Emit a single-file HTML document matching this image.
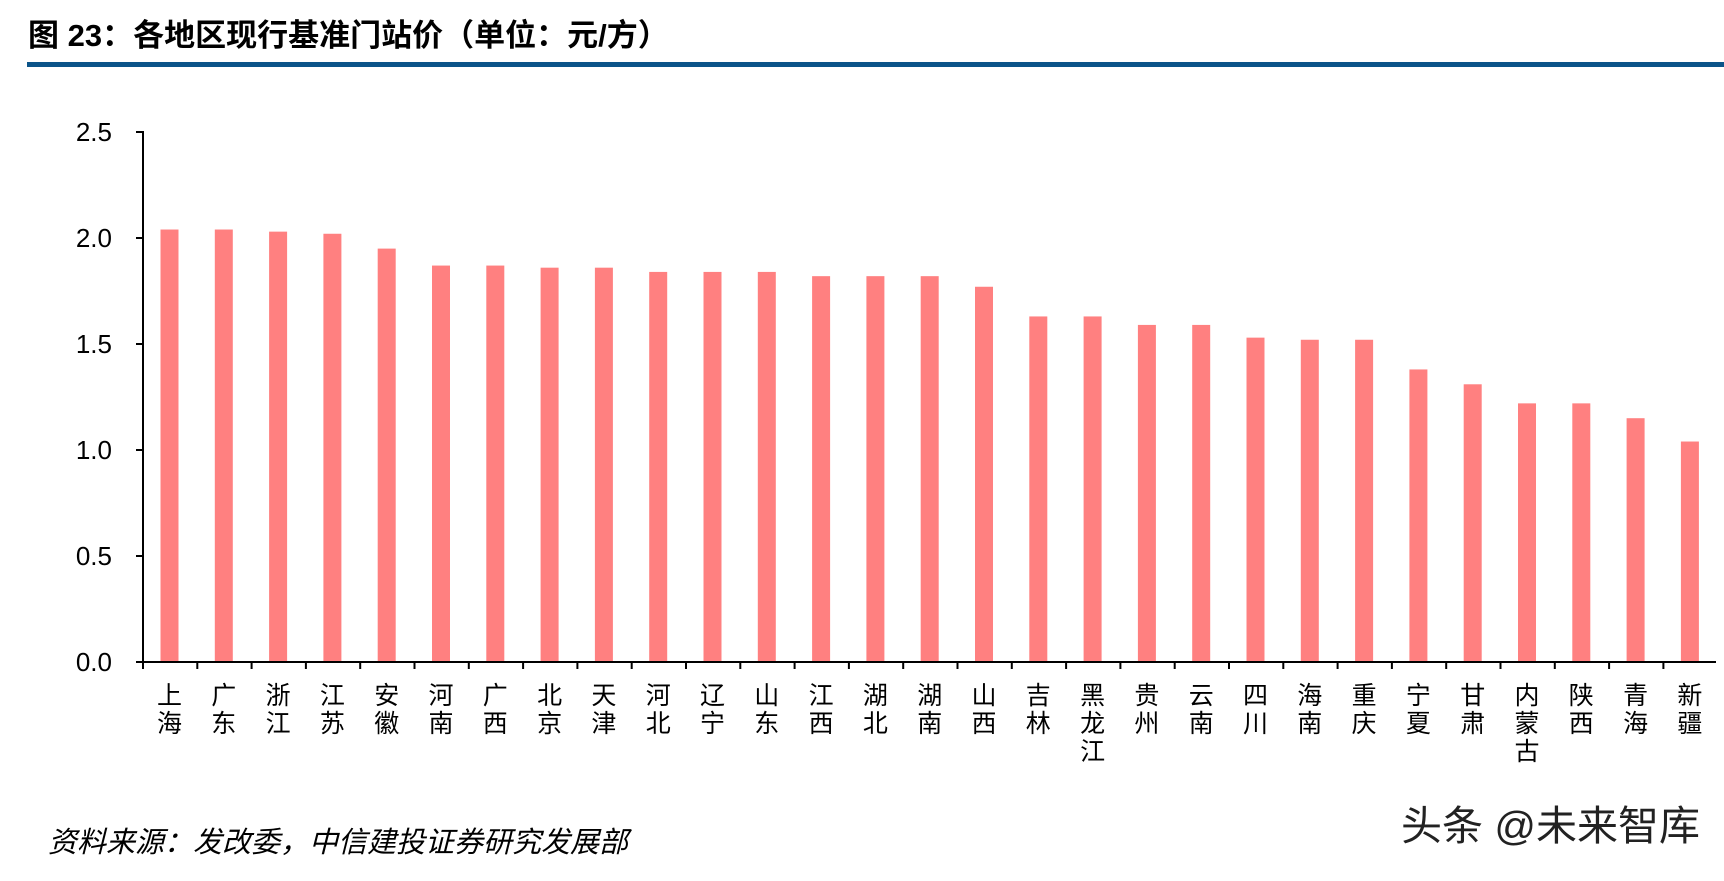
<!DOCTYPE html>
<html><head><meta charset="utf-8"><style>
html,body{margin:0;padding:0;background:#fff;}
svg text{font-family:"Liberation Sans","Noto Sans CJK SC",sans-serif;}
</style></head><body>
<svg width="1724" height="876" viewBox="0 0 1724 876" xmlns="http://www.w3.org/2000/svg">
<text x="28" y="46" font-size="31" font-weight="bold" font-family="Liberation Serif,Noto Serif CJK SC,serif" fill="#000">图 23：各地区现行基准门站价（单位：元/方）</text>
<rect x="27" y="62" width="1697" height="5" fill="#0b5489"/>
<g font-size="26" fill="#000" text-anchor="end">
<text x="112" y="141">2.5</text><text x="112" y="247">2.0</text><text x="112" y="353">1.5</text><text x="112" y="459">1.0</text><text x="112" y="565">0.5</text><text x="112" y="671">0.0</text>
</g>
<g transform="translate(0,662) scale(1,-212)" fill="#ff8080">
<rect x="160.5" y="0" width="18" height="2.04"/>
<rect x="214.8" y="0" width="18" height="2.04"/>
<rect x="269.1" y="0" width="18" height="2.03"/>
<rect x="323.4" y="0" width="18" height="2.02"/>
<rect x="377.7" y="0" width="18" height="1.95"/>
<rect x="432.0" y="0" width="18" height="1.87"/>
<rect x="486.3" y="0" width="18" height="1.87"/>
<rect x="540.6" y="0" width="18" height="1.86"/>
<rect x="594.9" y="0" width="18" height="1.86"/>
<rect x="649.2" y="0" width="18" height="1.84"/>
<rect x="703.5" y="0" width="18" height="1.84"/>
<rect x="757.8" y="0" width="18" height="1.84"/>
<rect x="812.1" y="0" width="18" height="1.82"/>
<rect x="866.4" y="0" width="18" height="1.82"/>
<rect x="920.7" y="0" width="18" height="1.82"/>
<rect x="975.0" y="0" width="18" height="1.77"/>
<rect x="1029.3" y="0" width="18" height="1.63"/>
<rect x="1083.6" y="0" width="18" height="1.63"/>
<rect x="1137.9" y="0" width="18" height="1.59"/>
<rect x="1192.2" y="0" width="18" height="1.59"/>
<rect x="1246.5" y="0" width="18" height="1.53"/>
<rect x="1300.8" y="0" width="18" height="1.52"/>
<rect x="1355.1" y="0" width="18" height="1.52"/>
<rect x="1409.4" y="0" width="18" height="1.38"/>
<rect x="1463.7" y="0" width="18" height="1.31"/>
<rect x="1518.0" y="0" width="18" height="1.22"/>
<rect x="1572.3" y="0" width="18" height="1.22"/>
<rect x="1626.6" y="0" width="18" height="1.15"/>
<rect x="1680.9" y="0" width="18" height="1.04"/>
</g>
<g stroke="#000" stroke-width="2" fill="none">
<line x1="143" y1="131" x2="143" y2="662"/>
<line x1="136" y1="132" x2="143" y2="132"/><line x1="136" y1="238" x2="143" y2="238"/><line x1="136" y1="344" x2="143" y2="344"/><line x1="136" y1="450" x2="143" y2="450"/><line x1="136" y1="556" x2="143" y2="556"/>
<line x1="136" y1="662" x2="1716" y2="662"/>
</g>
<line x1="142" y1="665.5" x2="1716" y2="665.5" stroke="#000" stroke-width="7" stroke-dasharray="2 52.3"/>
<g font-size="25" fill="#000" text-anchor="middle">
<text x="169.5" y="704">上</text><text x="169.5" y="732">海</text>
<text x="223.8" y="704">广</text><text x="223.8" y="732">东</text>
<text x="278.1" y="704">浙</text><text x="278.1" y="732">江</text>
<text x="332.4" y="704">江</text><text x="332.4" y="732">苏</text>
<text x="386.7" y="704">安</text><text x="386.7" y="732">徽</text>
<text x="441.0" y="704">河</text><text x="441.0" y="732">南</text>
<text x="495.3" y="704">广</text><text x="495.3" y="732">西</text>
<text x="549.6" y="704">北</text><text x="549.6" y="732">京</text>
<text x="603.9" y="704">天</text><text x="603.9" y="732">津</text>
<text x="658.2" y="704">河</text><text x="658.2" y="732">北</text>
<text x="712.5" y="704">辽</text><text x="712.5" y="732">宁</text>
<text x="766.8" y="704">山</text><text x="766.8" y="732">东</text>
<text x="821.1" y="704">江</text><text x="821.1" y="732">西</text>
<text x="875.4" y="704">湖</text><text x="875.4" y="732">北</text>
<text x="929.7" y="704">湖</text><text x="929.7" y="732">南</text>
<text x="984.0" y="704">山</text><text x="984.0" y="732">西</text>
<text x="1038.3" y="704">吉</text><text x="1038.3" y="732">林</text>
<text x="1092.6" y="704">黑</text><text x="1092.6" y="732">龙</text><text x="1092.6" y="760">江</text>
<text x="1146.9" y="704">贵</text><text x="1146.9" y="732">州</text>
<text x="1201.2" y="704">云</text><text x="1201.2" y="732">南</text>
<text x="1255.5" y="704">四</text><text x="1255.5" y="732">川</text>
<text x="1309.8" y="704">海</text><text x="1309.8" y="732">南</text>
<text x="1364.1" y="704">重</text><text x="1364.1" y="732">庆</text>
<text x="1418.4" y="704">宁</text><text x="1418.4" y="732">夏</text>
<text x="1472.7" y="704">甘</text><text x="1472.7" y="732">肃</text>
<text x="1527.0" y="704">内</text><text x="1527.0" y="732">蒙</text><text x="1527.0" y="760">古</text>
<text x="1581.3" y="704">陕</text><text x="1581.3" y="732">西</text>
<text x="1635.6" y="704">青</text><text x="1635.6" y="732">海</text>
<text x="1689.9" y="704">新</text><text x="1689.9" y="732">疆</text>
</g>
<text x="48" y="852" font-size="29" font-style="italic" font-family="Liberation Serif,Noto Serif CJK SC,serif" fill="#000">资料来源：发改委，中信建投证券研究发展部</text>
<text x="1700" y="840" font-size="41" text-anchor="end" fill="#222">头条 @未来智库</text>
</svg>
</body></html>
